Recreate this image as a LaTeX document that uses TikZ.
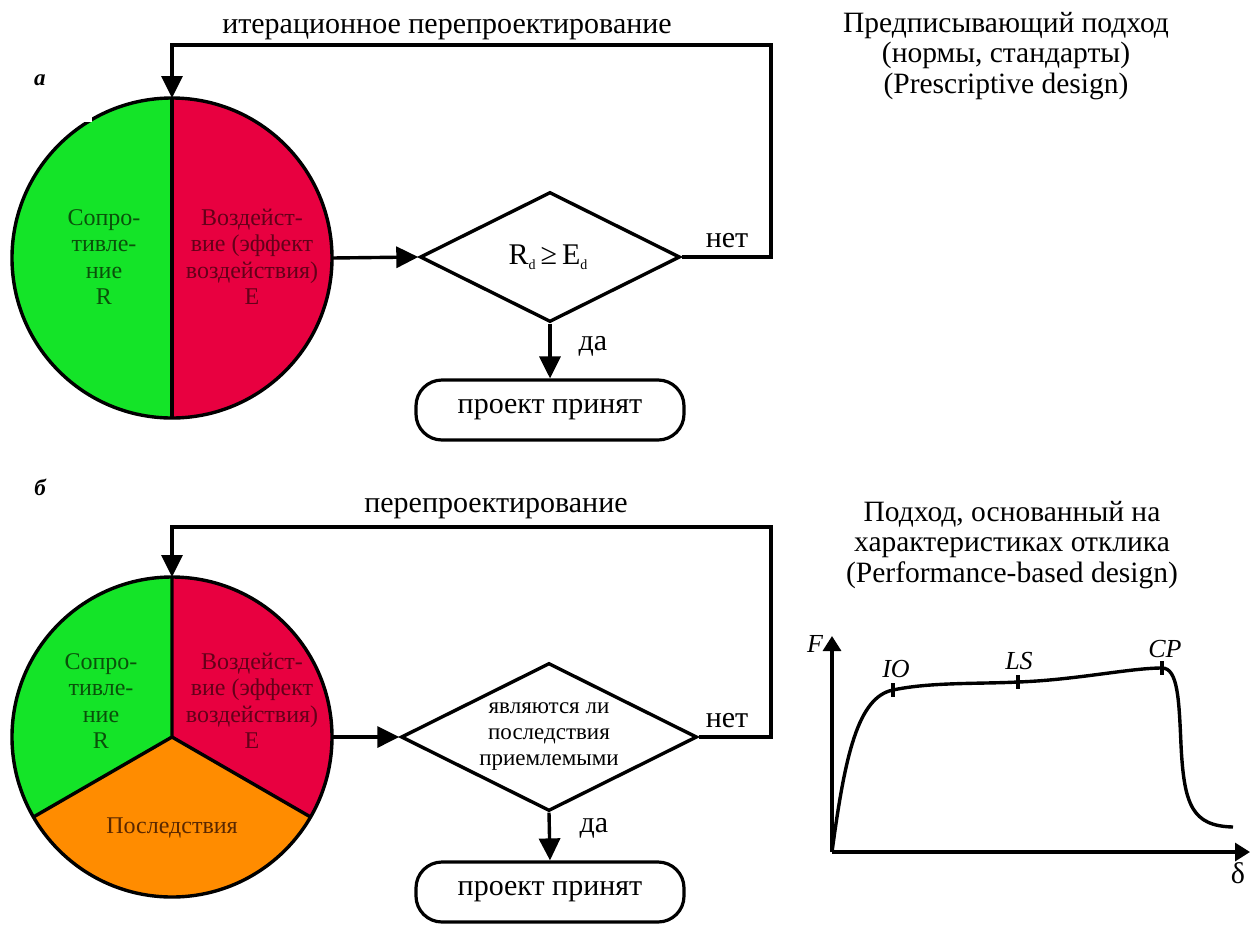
\documentclass[tikz,border=0pt]{standalone}
\usepackage{fontspec}
\setmainfont{Liberation Serif}
\usetikzlibrary{arrows.meta,shapes.geometric}
\definecolor{cgreen}{RGB}{20,228,40}
\definecolor{cred}{RGB}{232,0,64}
\definecolor{corange}{RGB}{255,140,0}
\definecolor{tgreen}{RGB}{10,80,10}
\definecolor{tred}{RGB}{100,0,25}
\definecolor{torange}{RGB}{90,40,0}
\begin{document}
\begin{tikzpicture}[x=1pt,y=-1pt,
  line/.style={line width=3.4pt},
  arr/.style={line width=3.4pt,-{Triangle[length=22pt,width=21pt]}},
  axarr/.style={line width=3.2pt,-{Triangle[length=15pt,width=18pt]}},
  lbl/.style={font=\fontsize{30}{32}\selectfont,inner sep=0pt},
  rtext/.style={font=\fontsize{29.5}{30.5}\selectfont,align=center,inner sep=0pt},
  ctext/.style={font=\fontsize{24}{26.5}\selectfont,align=center,inner sep=0pt},
  dtext/.style={font=\fontsize{23}{26}\selectfont,align=center,inner sep=0pt},
  tag/.style={font=\fontsize{23}{24}\selectfont\bfseries\itshape,inner sep=0pt},
  gl/.style={font=\fontsize{26}{26}\selectfont\itshape,inner sep=0pt,anchor=base},
  pie/.style={circle,minimum size=320pt,inner sep=0pt,outer sep=0pt},
  box/.style={draw,line width=3.2pt,rounded corners=26pt,minimum width=268pt,minimum height=60pt,inner sep=0pt,font=\fontsize{30}{32}\selectfont}]
\useasboundingbox (0,0) rectangle (1250,927);

% ---------------- part a ----------------
\node[pie] (c1) at (172,258) {};
\fill[cgreen] (c1.center) -- (c1.north) arc[start angle=90,end angle=270,radius=160pt] -- cycle;
\fill[cred] (c1.center) -- (c1.north) arc[start angle=90,end angle=-90,radius=160pt] -- cycle;
\draw[line] (c1.north) -- (c1.south);
\draw[line] (c1.center) circle[radius=160pt];
\fill[white] (0,62) rectangle (92,122);
\node[tag, anchor=base] (ta) at (40,85) {а};
\node[ctext,text=tgreen] (r1) at (104,257) {Сопро-\\тивле-\\ние\\R};
\node[ctext,text=tred] (e1) at (252,257) {Воздейст-\\вие (эффект\\воздействия)\\E};

\node[draw,line width=3.4pt,diamond,minimum width=260pt,minimum height=130pt,inner sep=0pt] (d1) at (550,257) {};
\node[lbl] (d1t) at (548,257) {R\raisebox{-0.35ex}{\fontsize{14}{14}\selectfont d}\,≥\,E\raisebox{-0.35ex}{\fontsize{14}{14}\selectfont d}};
\node[box] (b1) at (550,410) {проект принят};
\coordinate (t1) at (771,45);
\draw[arr] (c1.east) -- (d1.west);
\draw[arr] (d1.south) -- (b1.north);
\draw[arr] (d1.east) -| (t1) -| (c1.north);
\node[lbl,anchor=base] (n1) at (727,247) {нет};
\node[lbl,anchor=base] (y1) at (593,350) {да};
\node[lbl,anchor=base] (it) at (447,33) {итерационное перепроектирование};
\node[rtext] (pr) at (1006,56) {Предписывающий подход\\(нормы, стандарты)\\(Prescriptive design)};

% ---------------- part b ----------------
\node[pie] (c2) at (172,737) {};
\fill[cgreen] (c2.center) -- (c2.north) arc[start angle=90,end angle=210,radius=160pt] -- cycle;
\fill[cred] (c2.center) -- (c2.north) arc[start angle=90,end angle=-30,radius=160pt] -- cycle;
\fill[corange] (c2.center) -- (c2.210) arc[start angle=210,end angle=330,radius=160pt] -- cycle;
\draw[line,line join=round] (c2.north) -- (c2.center) -- (c2.210);
\draw[line] (c2.center) -- (c2.-30);
\draw[line] (c2.center) circle[radius=160pt];
\node[tag, anchor=base] (tb) at (40,495) {б};
\node[ctext,text=tgreen] (r2) at (101,701) {Сопро-\\тивле-\\ние\\R};
\node[ctext,text=tred] (e2) at (252,701) {Воздейст-\\вие (эффект\\воздействия)\\E};
\node[ctext,text=torange] (p2) at (172,828) {Последствия};

\node[draw,line width=3.4pt,diamond,minimum width=296pt,minimum height=148pt,inner sep=0pt] (d2) at (549,737) {};
\node[dtext] (d2t) at (549,737) {являются ли\\последствия\\приемлемыми};
\node[box] (b2) at (550,892) {проект принят};
\coordinate (t2) at (771,527);
\draw[arr] (c2.east) -- (d2.west);
\draw[arr] (d2.south) -- (b2.north);
\draw[arr] (d2.east) -| (t2) -| (c2.north);
\node[lbl,anchor=base] (n2) at (727,727) {нет};
\node[lbl,anchor=base] (y2) at (594,832) {да};
\node[lbl,anchor=base] (pp) at (496,512) {перепроектирование};
\node[rtext] (pb) at (1012,545) {Подход, основанный на\\характеристиках отклика\\(Performance-based design)};

% ---------------- graph ----------------
\coordinate (O) at (832,852);
\coordinate (Ytop) at (832,636);
\coordinate (Xend) at (1250,852);
\coordinate (IO) at (893,690);
\coordinate (LS) at (1018,682);
\coordinate (CP) at (1162,668);
\coordinate (EndC) at (1233,827);
\draw[axarr] (O) -- (Ytop);
\draw[axarr] (O) -- (Xend);
\draw[line,line join=round] (O) .. controls (845,755) and (858,697) .. (IO)
  .. controls (930,682) and (980,684) .. (LS)
  .. controls (1075,680) and (1130,668) .. (CP)
  .. controls (1178,668) and (1179,700) .. (1181,745)
  .. controls (1184,805) and (1192,826) .. (EndC);
\draw[line] ([yshift=7pt]IO) -- ([yshift=-7pt]IO);
\draw[line] ([yshift=7pt]LS) -- ([yshift=-7pt]LS);
\draw[line] ([yshift=7pt]CP) -- ([yshift=-7pt]CP);
\node[gl] (lio) at (896,677) {IO};
\node[gl] (lls) at (1019,669) {LS};
\node[gl] (lcp) at (1165,657) {CP};
\node[gl] (lf) at (815,652) {F};
\node[lbl,anchor=base] (ld) at (1238,883) {δ};
\end{tikzpicture}
\end{document}
